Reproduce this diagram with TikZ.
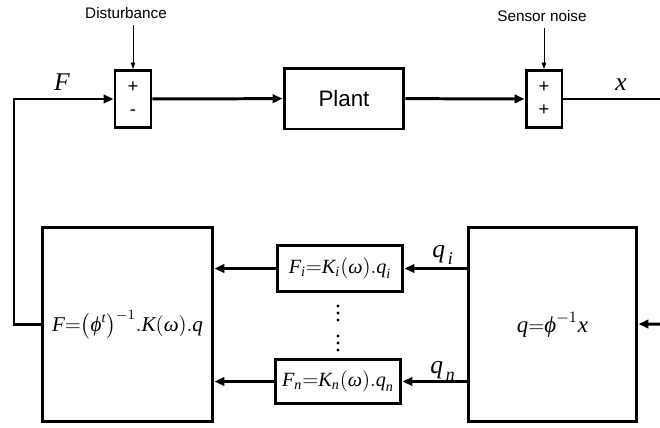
\documentclass[tikz,border=0pt]{standalone}
\usepackage{amsmath}
\usepackage{fontspec}
\setmainfont{Liberation Sans}
\newfontfamily\tnr{Liberation Serif}
\usetikzlibrary{arrows.meta}
\newcommand{\vi}[1]{\text{\tnr\itshape #1}}
\newcommand{\eqs}{\mathord{=}}

\tikzset{
  blk/.style={draw,line width=1.7pt,inner sep=0pt},
  sig/.style={line width=1.7pt,-{Triangle[length=0.2cm,width=0.17cm]}},
  wire/.style={line width=1.7pt},
  ext/.style={line width=0.5pt,-{Triangle[length=0.13cm,width=0.09cm]}},
  sgn/.style={font=\fontsize{10.5}{13}\selectfont,align=center},
}

\begin{document}
\begin{tikzpicture}[x=0.02cm,y=-0.02cm]
\useasboundingbox (0,0) rectangle (660,427);

% forward path
\node[blk,sgn,minimum width=0.72cm,minimum height=1.14cm] (sumd) at (133,99) {+\\-};
\node[blk,font=\fontsize{12.7}{15}\selectfont,minimum width=2.4cm,minimum height=1.22cm] (plant) at (344,98.5) {Plant};
\node[blk,sgn,minimum width=0.72cm,minimum height=1.14cm] (sumn) at (544,99) {+\\+};

\node[font=\fontsize{8.7}{10}\selectfont] (dist) at (126,13) {Disturbance};
\node[font=\fontsize{8.7}{10}\selectfont] (noise) at (542,16) {Sensor noise};
\draw[ext] (dist.south -| sumd) -- (sumd.north);
\draw[ext] (noise.south -| sumn) -- (sumn.north);

\draw[sig] (sumd) -- (plant);
\draw[sig] (plant) -- (sumn);
\coordinate (xout) at (660,99);
\draw[wire] (sumn) -- (xout);

% feedback path
\node[blk,minimum width=3.42cm,minimum height=3.9cm] (ctrl) at (127.5,324.5) {};
\node[font=\fontsize{12}{15}\selectfont,inner sep=0pt] (ctrltxt) at (ctrl.center)
  {$\vi{F}\eqs\bigl(\vi{ϕ}^{\vi{t}}\bigr)^{-1}.\vi{K}(\vi{ω}).\vi{q}$};
\node[blk,minimum width=3.38cm,minimum height=3.9cm] (modal) at (552.5,324.5) {};
\node[font=\fontsize{13}{16}\selectfont,inner sep=0pt] (modaltxt) at (modal.center)
  {$\vi{q}\eqs\vi{ϕ}^{-1}\vi{x}$};
\node[blk,font=\fontsize{11.5}{14}\selectfont,minimum width=2.52cm,minimum height=0.92cm] (fi) at (340,268.5)
  {$\vi{F}_{\vi{i}}\eqs\vi{K}_{\vi{i}}(\vi{ω}).\vi{q}_{\vi{i}}$};
\node[blk,font=\fontsize{11.5}{14}\selectfont,minimum width=2.52cm,minimum height=0.88cm] (fn) at (338,381.5)
  {$\vi{F}_{\vi{n}}\eqs\vi{K}_{\vi{n}}(\vi{ω}).\vi{q}_{\vi{n}}$};
% vertical dots between the gain blocks
\foreach \yy in {306,313,320,336,343,350}
  \fill (338,\yy) circle (0.9pt);

\coordinate (xin) at (660,324);
\coordinate (fb) at (14,324.5);
\draw[sig] (xin) -- (modal);
\draw[sig] (modal.west |- fi) -- (fi);
\draw[sig] (modal.west |- fn) -- (fn);
\draw[sig] (fi) -- (ctrl.east |- fi);
\draw[sig] (fn) -- (ctrl.east |- fn);
\draw[sig] (ctrl.west) -- (fb) |- (sumd);

% signal labels
\node[font=\fontsize{14.5}{16}\selectfont] (lf) at (62,82) {$\vi{F}$};
\node[font=\fontsize{14.5}{16}\selectfont] (lx) at (621,85) {$\vi{x}$};
\node[font=\fontsize{14.5}{16}\selectfont] (lqi) at (443,255) {$\vi{q}_{\,\vi{i}}$};
\node[font=\fontsize{14.5}{16}\selectfont] (lqn) at (443,371) {$\vi{q}_{\,\vi{n}}$};

\end{tikzpicture}
\end{document}
